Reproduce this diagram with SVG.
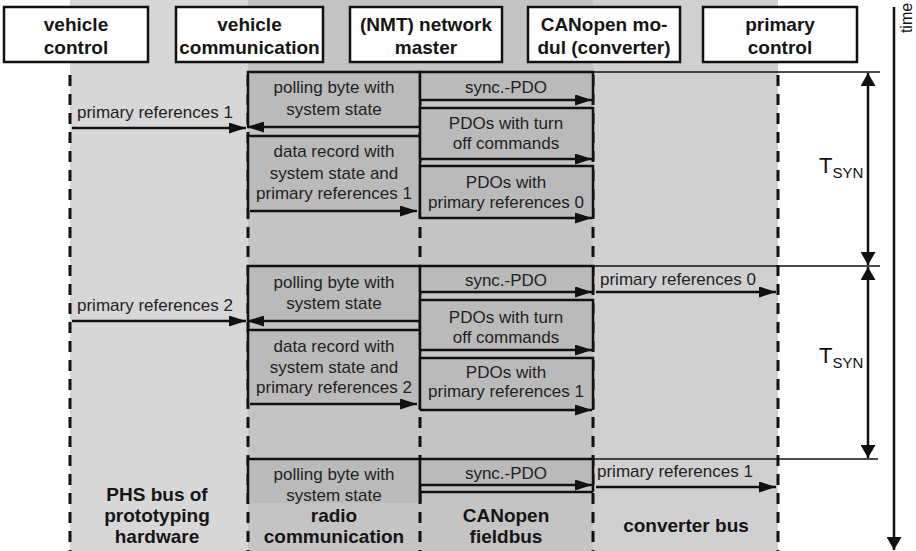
<svg xmlns="http://www.w3.org/2000/svg" width="916" height="551" viewBox="0 0 916 551">
<defs>
<marker id="ah" markerWidth="17" markerHeight="11" refX="17" refY="5.5" orient="auto-start-reverse" markerUnits="userSpaceOnUse"><path d="M0,0 L17,5.5 L0,11 z" fill="#111"/></marker>
<marker id="ah2" markerWidth="14" markerHeight="15" refX="13" refY="7.5" orient="auto-start-reverse" markerUnits="userSpaceOnUse"><path d="M0,0 L13,7.5 L0,15 z" fill="#111"/></marker>
<style>
.hdr rect{fill:#fff;stroke:#111;stroke-width:2.5}
.hdr text,.lbl{font-family:"Liberation Sans",Arial,sans-serif;font-weight:bold;font-size:19px;fill:#151515;text-anchor:middle}
.msg text{font-family:"Liberation Sans",Arial,sans-serif;font-size:17px;fill:#222;text-anchor:middle}
.sig{font-family:"Liberation Sans",Arial,sans-serif;font-size:17px;fill:#222}
.box{fill:#bababa;stroke:none}
.edge{fill:none;stroke:#111;stroke-width:2.5}
.arr{stroke:#111;stroke-width:2.5;marker-end:url(#ah)}
.lane{stroke:#111;stroke-width:3;stroke-dasharray:11 8}
.thin{stroke:#111;stroke-width:1.5}
.tsyn{font-family:"Liberation Sans",Arial,sans-serif;fill:#111}
</style>
</defs>

<g id="background">
<rect x="70" y="0" width="178" height="551" fill="#d7d7d7"/>
<rect x="248" y="0" width="345" height="551" fill="#c4c4c4"/>
<rect x="593" y="0" width="185" height="551" fill="#d0d0d0"/>
</g>

<g id="lanes">
<line class="lane" x1="70" y1="75" x2="70" y2="551"/>
<line class="lane" x1="248" y1="75" x2="248" y2="551"/>
<line class="lane" x1="420" y1="75" x2="420" y2="551"/>
<line class="lane" x1="593" y1="75" x2="593" y2="551"/>
<line class="lane" x1="778" y1="75" x2="778" y2="551"/>
</g>

<g id="header" class="hdr">
<g id="h-vehicle-control"><rect x="4" y="7" width="144" height="55"/><text x="76" y="31">vehicle</text><text x="76" y="54">control</text></g>
<g id="h-vehicle-communication"><rect x="176" y="7" width="147" height="55"/><text x="249.5" y="31">vehicle</text><text x="249.5" y="54">communication</text></g>
<g id="h-nmt-master"><rect x="350" y="7" width="152" height="55"/><text x="426" y="31">(NMT) network</text><text x="426" y="54">master</text></g>
<g id="h-canopen-modul"><rect x="528" y="7" width="152" height="55"/><text x="604" y="31">CANopen mo-</text><text x="604" y="54">dul (converter)</text></g>
<g id="h-primary-control"><rect x="703" y="7" width="154" height="55"/><text x="780" y="31">primary</text><text x="780" y="54">control</text></g>
</g>

<g id="cycle1" class="msg">
<g id="c1-polling"><rect class="box" x="248" y="72" width="172" height="55"/><path class="edge" d="M248,127 V72 H420 V127"/><text x="334" y="93">polling byte with</text><text x="334" y="115">system state</text></g>
<g id="c1-data"><rect class="box" x="248" y="136" width="172" height="75"/><path class="edge" d="M248,211 V136 H420 V211"/><text x="334" y="157">data record with</text><text x="334" y="179">system state and</text><text x="334" y="199">primary references 1</text></g>
<g id="c1-sync"><rect class="box" x="420" y="72" width="173" height="28"/><path class="edge" d="M420,100 V72 H593 V100"/><text x="506" y="93">sync.-PDO</text></g>
<g id="c1-turnoff"><rect class="box" x="420" y="108" width="173" height="51"/><path class="edge" d="M420,159 V108 H593 V159"/><text x="506" y="129">PDOs with turn</text><text x="506" y="149">off commands</text></g>
<g id="c1-prim"><rect class="box" x="420" y="166" width="173" height="52"/><path class="edge" d="M420,218 V166 H593 V218"/><text x="506" y="188">PDOs with</text><text x="506" y="208">primary references 0</text></g>
</g>

<g id="cycle2" class="msg">
<g id="c2-polling"><rect class="box" x="248" y="266" width="172" height="55"/><path class="edge" d="M248,321 V266 H420 V321"/><text x="334" y="288">polling byte with</text><text x="334" y="309">system state</text></g>
<g id="c2-data"><rect class="box" x="248" y="330" width="172" height="74"/><path class="edge" d="M248,404 V330 H420 V404"/><text x="334" y="352">data record with</text><text x="334" y="373">system state and</text><text x="334" y="393">primary references 2</text></g>
<g id="c2-sync"><rect class="box" x="420" y="266" width="173" height="26"/><path class="edge" d="M420,292 V266 H593 V292"/><text x="506" y="286">sync.-PDO</text></g>
<g id="c2-turnoff"><rect class="box" x="420" y="300" width="173" height="50"/><path class="edge" d="M420,350 V300 H593 V350"/><text x="506" y="323">PDOs with turn</text><text x="506" y="343">off commands</text></g>
<g id="c2-prim"><rect class="box" x="420" y="358" width="173" height="52"/><path class="edge" d="M420,410 V358 H593 V410"/><text x="506" y="378">PDOs with</text><text x="506" y="397">primary references 1</text></g>
</g>

<g id="cycle3" class="msg">
<g id="c3-polling"><rect class="box" x="248" y="459" width="172" height="44"/><path class="edge" d="M248,503 V459 H420 V503"/><text x="334" y="480">polling byte with</text><text x="334" y="501">system state</text></g>
<g id="c3-sync"><rect class="box" x="420" y="459" width="173" height="26"/><path class="edge" d="M420,503 V459 H593 V492"/><line class="edge" x1="420" y1="492" x2="593" y2="492"/><text x="506" y="479">sync.-PDO</text></g>
</g>

<g id="connectors">
<line class="arr" x1="420" y1="127" x2="247" y2="127"/>
<line class="arr" x1="250" y1="211" x2="417" y2="211"/>
<line class="arr" x1="420" y1="100" x2="592" y2="100"/>
<line class="arr" x1="420" y1="159" x2="592" y2="159"/>
<line class="arr" x1="420" y1="218" x2="592" y2="218"/>
<line class="arr" x1="72" y1="128" x2="246" y2="128"/>
<line class="arr" x1="420" y1="321" x2="247" y2="321"/>
<line class="arr" x1="250" y1="404" x2="417" y2="404"/>
<line class="arr" x1="420" y1="292" x2="592" y2="292"/>
<line class="arr" x1="420" y1="350" x2="592" y2="350"/>
<line class="arr" x1="420" y1="410" x2="592" y2="410"/>
<line class="arr" x1="72" y1="321" x2="246" y2="321"/>
<line class="arr" x1="596" y1="292" x2="776" y2="292"/>
<line class="arr" x1="420" y1="485" x2="592" y2="485"/>
<line class="arr" x1="596" y1="487" x2="776" y2="487"/>
<line class="thin" x1="593" y1="72" x2="880" y2="72"/>
<line class="thin" x1="593" y1="266" x2="880" y2="266"/>
<line class="thin" x1="593" y1="459" x2="878" y2="459"/>
<line stroke="#111" stroke-width="2.5" x1="868" y1="73" x2="868" y2="265" marker-start="url(#ah2)" marker-end="url(#ah2)"/>
<line stroke="#111" stroke-width="2.5" x1="868" y1="267" x2="868" y2="458" marker-start="url(#ah2)" marker-end="url(#ah2)"/>
<line stroke="#111" stroke-width="2.5" x1="894" y1="7" x2="894" y2="550" marker-end="url(#ah2)"/>
</g>

<g id="signals">
<text class="sig" x="77" y="118">primary references 1</text>
<text class="sig" x="77" y="311">primary references 2</text>
<text class="sig" x="600" y="285">primary references 0</text>
<text class="sig" x="597" y="477">primary references 1</text>
</g>

<g id="labels">
<text class="lbl" x="157" y="501">PHS bus of</text>
<text class="lbl" x="157" y="522">prototyping</text>
<text class="lbl" x="157" y="543">hardware</text>
<text class="lbl" x="334" y="522">radio</text>
<text class="lbl" x="334" y="543">communication</text>
<text class="lbl" x="506" y="522">CANopen</text>
<text class="lbl" x="506" y="543">fieldbus</text>
<text class="lbl" x="686" y="532">converter bus</text>
<text class="tsyn" x="819" y="173"><tspan font-size="22">T</tspan><tspan font-size="15" dy="5">SYN</tspan></text>
<text class="tsyn" x="819" y="363"><tspan font-size="22">T</tspan><tspan font-size="15" dy="5">SYN</tspan></text>
<text class="tsyn" font-size="16" text-anchor="middle" transform="translate(912,18) rotate(-90)">time</text>
</g>
</svg>
